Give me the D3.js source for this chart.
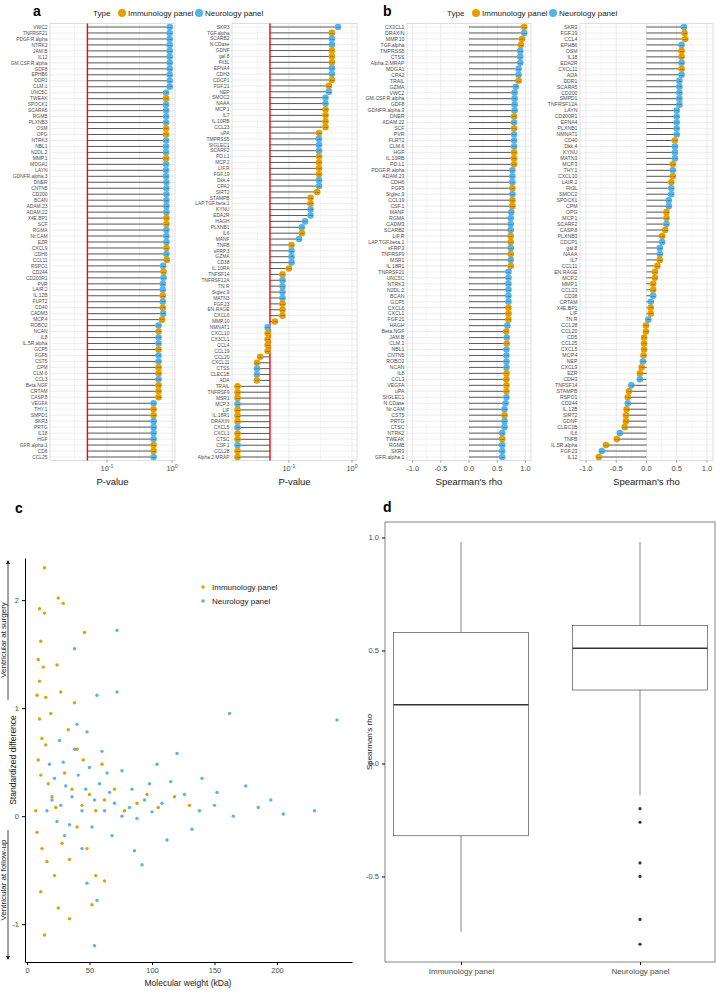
<!DOCTYPE html>
<html>
<head>
<meta charset="utf-8">
<script src="https://cdn.jsdelivr.net/npm/d3@7"></script>
<style>
  body { margin: 0; background: #fff; }
  text { font-family: "Liberation Sans", Arial, sans-serif; }
</style>
</head>
<body>
<svg id="fig" width="717" height="992"></svg>
<script>
// ---- data: panel a (P-values) ----
const aLeftNames = ["VWC2","TNFRSF21","PDGF.R.alpha","NTRK2","JAM.B","IL12","GM.CSF.R.alpha","GDF8","EPHB6","DDR1","CLM.1","UNC5C","TWEAK","SPOCK1","SCARA5","RGMB","PLXNB3","OSM","OPG","NTRK3","NBL1","N2DL.2","MMP.1","MDGA1","LAYN","GDNFR.alpha.3","DNER","CNTN5","CD200","BCAN","ADAM.23","ADAM.22","X4E.BP1","SCF","RGMA","Nr.CAM","EZR","CXCL9","CDH6","CCL11","RSPO1","CD244","CD200R1","PVR","LAIR.2","IL.12B","FLRT2","CD40","CADM3","MCP.4","ROBO2","NCAN","IL8","IL.5R.alpha","GCP5","FGF5","CST5","CPM","CLM.6","CCL3","Beta.NGF","CRTAM","CASP.8","VEGFA","THY.1","SMPD1","SKR3","PRTG","IL18","HGF","GFR.alpha.1","CD6","CCL25"];
const aLeftP = [0.92,0.92,0.92,0.92,0.92,0.92,0.92,0.92,0.92,0.92,0.92,
  0.81,0.81,0.81,0.81,0.81,0.81,0.81,0.81,0.81,0.81,0.81,0.81,0.81,0.81,0.81,0.82,0.82,0.82,0.82,0.82,0.82,0.82,0.82,0.82,0.82,0.82,0.82,0.82,0.83,
  0.73,0.74,0.74,0.72,0.72,0.72,0.72,0.72,0.73,0.70,
  0.62,0.62,0.62,0.62,0.62,0.62,0.62,0.62,0.62,0.62,0.62,0.62,0.62,
  0.52,0.52,0.52,0.52,0.52,0.52,0.52,0.52,0.52,0.52];
const aLeftType = "NNNNNNNNNNNNINNNNIINNNINNNNNNNNNIINNNINININNNININININNINNIINIIINIINNNNIINII".split("");

const aRightNames = ["SKR3","TGF.alpha","SCARB2","N.CDase","GDNF","gal.8","Flt3L","EFNA4","CDH3","CDCP1","FGF.21","NEP","SMOC2","NAAA","MCP.1","IL7","IL.10RB","CCL23","uPA","TMPRSS5","SIGLEC1","SCARF2","PD.L1","MCP.2","LIF.R","FGF.19","Dkk.4","CPA2","SIRT2","STAMPB","LAP.TGF.beta.1","KYNU","EDA2R","HAGH","PLXNB1","IL6","MANF","TNFB","sFRP.3","GZMA","CD38","IL.10RA","TNFSF14","TNFRSF12A","TN.R","Siglec.9","MATN3","FGF.23","EN.RAGE","CXCL6","MMP.10","NMNAT1","CXCL10","CX3CL1","CCL4","CCL19","CCL20","CXCL11","CTSS","CLEC1B","ADA","TRAIL","TNFRSF9","MSR1","MCP.3","LIF","IL.18R1","DRAXIN","CXCL5","CXCL1","CTSC","CSF.1","CCL28","Alpha.2.MRAP"];
const aRightP = [0.60,0.48,0.48,0.48,0.48,0.48,0.48,0.48,0.48,0.48,0.43,0.43,
  0.38,0.38,0.38,0.38,0.38,0.38,0.30,0.30,0.30,0.30,0.30,0.30,0.30,0.30,0.30,0.30,
  0.28,0.22,0.22,0.22,0.22,0.18,0.16,0.16,0.145,0.11,0.11,0.11,0.11,0.10,
  0.079,0.079,0.079,0.079,0.079,0.079,0.079,0.079,0.060,
  0.046,0.046,0.046,0.046,0.046,0.035,0.031,0.031,0.031,0.031,
  0.0153,0.0153,0.0153,0.0153,0.0153,0.0153,0.0153,0.0153,0.0153,0.0153,0.0153,0.0153,0.0153];
const aRightType = "NINNIIINNIINNNIIIIINNNIIIINNIIINNNNININNNIINNNNIIIINIIIIIINNIIIINIIINIINIIN".split("");

// ---- data: panel b (Spearman's rho) ----
const bLeftNames = ["CX3CL1","DRAXIN","MMP.10","TGF.alpha","TMPRSS5","CTSS","Alpha.2.MRAP","MDGA1","CPA2","TRAIL","GZMA","VWC2","GM.CSF.R.alpha","GDF8","GDNFR.alpha.3","DNER","ADAM.22","SCF","PVR","FLRT2","CLM.6","HGF","IL.10RB","PD.L1","PDGF.R.alpha","ADAM.23","CDH6","FGF5","Siglec.9","CCL19","CSF.1","MANF","RGMA","CADM3","SCARB2","LIF.R","LAP.TGF.beta.1","sFRP.3","TNFRSF9","MSR1","IL.18R1","TNFRSF21","UNC5C","NTRK3","N2DL.2","BCAN","GCP5","CXCL6","CXCL1","FGF.21","HAGH","Beta.NGF","JAM.B","CLM.1","NBL1","CNTN5","ROBO2","NCAN","IL8","CCL3","VEGFA","uPA","SIGLEC1","N.CDase","Nr.CAM","CST5","PRTG","CTSC","NTRK2","TWEAK","RGMB","SKR3","GFR.alpha.1"];
const bLeftRho = [0.98,0.98,0.94,0.92,0.91,0.91,0.91,0.88,0.88,0.88,0.83,
  0.81,0.81,0.81,0.81,0.80,0.80,0.80,0.80,0.80,0.80,0.80,0.80,0.80,
  0.77,0.77,0.77,0.77,0.77,0.77,0.77,0.75,
  0.74,0.74,0.74,0.74,0.74,0.74,0.74,0.74,0.74,
  0.70,0.70,0.70,0.70,0.70,0.70,0.70,0.70,0.70,0.68,0.66,0.67,0.67,
  0.665,0.665,0.665,0.665,0.665,0.665,0.665,0.665,0.665,0.65,
  0.63,0.63,0.63,0.63,0.59,0.59,0.59,0.59,0.59];
const bLeftType = "INIINNNNNINNNNNININNNIIINNNINIINNNNIINININNNNNNIIINININNNNIIIINNNINNNINNN".split("");

const bRightNames = ["SKR3","FGF.19","CCL4","EPHB6","OSM","IL18","EDA2R","CXCL11","ADA","DDR1","SCARA5","CD200","SMPD1","TNFRSF12A","LAYN","CD200R1","EFNA4","PLXNB1","NMNAT1","CD40","Dkk.4","KYNU","MATN3","MCP.3","THY.1","CXCL10","LAIR.2","Flt3L","SMOC2","SPOCK1","CPM","OPG","MCP.1","SCARF2","CASP.8","PLXNB3","CDCP1","gal.8","NAAA","IL7","CCL11","EN.RAGE","MCP.2","MMP.1","CCL23","CD38","CRTAM","X4E.BP1","LIF","TN.R","CCL28","CCL20","CD5","CCL25","CXCL5","MCP.4","NEP","CXCL9","EZR","CDH3","TNFSF14","STAMPB","RSPO1","CD244","IL.12B","SIRT2","GDNF","CLEC1B","IL6","TNFB","IL.5R.alpha","FGF.23","IL12"];
const bRightRho = [0.62,0.63,0.64,0.58,0.58,0.58,0.58,0.58,0.58,
  0.545,0.545,0.545,0.545,0.545,0.50,0.50,0.50,0.50,0.50,
  0.47,0.47,0.47,0.47,0.435,0.435,0.435,0.41,0.41,0.41,0.37,0.37,
  0.33,0.33,0.33,0.31,0.26,0.26,0.22,0.22,0.22,0.18,0.14,0.14,
  0.11,0.11,0.11,0.07,0.07,0.07,0.03,-0.01,-0.01,-0.04,-0.04,-0.04,-0.05,-0.06,-0.08,
  -0.11,-0.11,-0.25,-0.29,-0.31,-0.31,-0.33,-0.34,-0.34,-0.36,-0.44,-0.49,-0.67,-0.74,-0.79];
const bRightType = "NIINIININNNNNNNNNNNINNNINIINNNNIINIINNNIIIIIINNIINIIIIIINIINNIINIIIINIINIIN".split("");

// ---- data: panel c (molecular weight in kDa, standardized difference) ----
const cImmuno = [[14,2.30],[10,1.92],[14,1.88],[25,2.02],[29,1.97],[46,1.70],[11,1.62],[9,1.45],[13,1.38],[10,1.25],
  [24,1.40],[8,1.12],[15,1.10],[27,1.15],[10,0.90],[12,0.72],[15,0.66],[33,0.80],[40,0.62],[45,0.52],
  [9,0.52],[11,0.38],[17,0.30],[20,0.18],[23,0.08],[30,0.40],[36,0.25],[44,0.10],[50,0.20],[55,0.05],
  [62,0.15],[70,0.25],[78,0.05],[88,0.12],[96,0.20],[105,0.08],[118,0.18],[130,0.10],[8,-0.15],[12,-0.30],
  [16,-0.42],[22,-0.55],[28,-0.25],[34,-0.40],[40,-0.10],[48,-0.30],[55,-0.55],[11,-0.70],[14,-1.10],[34,-0.95],
  [52,-0.82],[62,-0.60],[25,-0.85],[19,0.95],[7,0.05],[38,1.05],[60,0.48]];
const cNeuro = [[54,-1.20],[56,-0.78],[48,-0.62],[72,1.72],[38,1.55],[162,0.95],[248,0.89],[72,1.15],[56,1.12],[230,0.05],
  [205,0.02],[185,0.08],[165,0.00],[150,0.10],[138,0.05],[126,0.20],[115,0.32],[108,0.12],[100,0.04],[94,0.15],
  [88,-0.02],[82,0.08],[76,0.00],[70,0.12],[66,0.22],[62,0.05],[58,0.30],[54,0.15],[50,0.45],[47,0.25],
  [44,0.05],[41,0.38],[38,0.62],[36,0.18],[34,-0.08],[31,0.28],[29,0.50],[27,0.10],[24,-0.05],[22,0.35],
  [20,0.15],[18,0.48],[16,0.05],[86,-0.32],[112,-0.22],[132,-0.12],[152,0.22],[68,-0.18],[44,-0.30],[30,-0.18],
  [48,0.78],[60,0.60],[76,0.42],[104,0.48],[120,0.58],[140,0.35],[175,0.28],[195,0.15],[98,0.30],[84,0.25],
  [64,0.40],[52,-0.10],[40,0.85],[26,0.70],[92,-0.45]];

// ---- data: panel d (box summaries of Spearman's rho) ----
const dGroups = ["Immunology panel", "Neurology panel"];
const dLow = [-0.745, -0.14];
const dQ1 = [-0.32, 0.325];
const dMed = [0.26, 0.51];
const dQ3 = [0.58, 0.61];
const dHigh = [0.98, 0.98];
const dOutliers = [[], [-0.20, -0.26, -0.44, -0.50, -0.69, -0.80]];

const ORANGE = "#E69F00", BLUE = "#56B4E9";
const typeColor = t => t === "I" ? ORANGE : BLUE;
const num1 = d => d.toFixed(1);   // ggplot-style labels with a plain hyphen
const svg = d3.select("#fig");

// lollipop panel used four times in a and b
function lollipop(cfg) {
  const g = svg.append("g");
  const idx = d3.range(cfg.names.length);
  const y = d3.scalePoint().domain(idx).range(cfg.rows);
  const pad = 0.6 * y.step();
  const top = cfg.rows[0] - pad, bottom = cfg.rows[1] + pad;
  const x = cfg.x;
  const [x0, x1] = x.range();

  g.selectAll(null).data(cfg.minor).enter().append("line")
    .attr("x1", d => x(d)).attr("x2", d => x(d))
    .attr("y1", top).attr("y2", bottom)
    .attr("stroke", "#ececec").attr("stroke-width", 0.5);
  g.selectAll(null).data(cfg.ticks).enter().append("line")
    .attr("x1", d => x(d)).attr("x2", d => x(d))
    .attr("y1", top).attr("y2", bottom)
    .attr("stroke", "#e0e0e0").attr("stroke-width", 0.7);
  g.selectAll(null).data(idx).enter().append("line")
    .attr("x1", x0).attr("x2", x1)
    .attr("y1", d => y(d)).attr("y2", d => y(d))
    .attr("stroke", "#e4e4e4").attr("stroke-width", 0.6);
  g.append("rect")
    .attr("x", x0).attr("y", top)
    .attr("width", x1 - x0).attr("height", bottom - top)
    .attr("fill", "none").attr("stroke", "#c8c8c8").attr("stroke-width", 0.6);

  if (cfg.ref) {
    g.append("line")
      .attr("x1", x(cfg.base)).attr("x2", x(cfg.base))
      .attr("y1", top).attr("y2", bottom)
      .attr("stroke", "#ff0000").attr("stroke-width", 1.4);
  }

  // stems
  g.selectAll(null).data(idx).enter().append("line")
    .attr("x1", x(cfg.base)).attr("x2", d => x(cfg.vals[d]))
    .attr("y1", d => y(d)).attr("y2", d => y(d))
    .attr("stroke", "#4a4a4a").attr("stroke-width", 0.9);

  // heads
  g.selectAll(null).data(idx).enter().append("circle")
    .attr("cx", d => x(cfg.vals[d])).attr("cy", d => y(d))
    .attr("r", 3.3)
    .attr("fill", d => typeColor(cfg.types[d]));
  g.selectAll(null).data(idx).enter().append("text")
    .attr("x", d => x(cfg.vals[d])).attr("y", d => y(d))
    .attr("dy", "0.35em").attr("text-anchor", "middle")
    .style("font-size", "2.2px").style("fill", "#333")
    .text(d => cfg.fmt(cfg.vals[d]));

  // row labels
  g.selectAll(null).data(idx).enter().append("text")
    .attr("x", x0 - 2.5).attr("y", d => y(d))
    .attr("dy", "0.35em").attr("text-anchor", "end")
    .style("font-size", cfg.labelSize + "px").style("fill", "#4d4d4d")
    .text(d => cfg.names[d]);

  // x axis ticks
  g.selectAll(null).data(cfg.ticks).enter().append("line")
    .attr("x1", d => x(d)).attr("x2", d => x(d))
    .attr("y1", bottom).attr("y2", bottom + 2)
    .attr("stroke", "#333").attr("stroke-width", 0.5);
  const tl = g.selectAll(null).data(cfg.ticks).enter().append("text")
    .attr("x", d => x(d)).attr("y", bottom + 10)
    .attr("text-anchor", "middle")
    .style("font-size", "7.5px").style("fill", "#4d4d4d");
  cfg.tickText(tl);

  g.append("text")
    .attr("x", (x0 + x1) / 2).attr("y", bottom + 24)
    .attr("text-anchor", "middle")
    .style("font-size", "9.5px").style("fill", "#1a1a1a")
    .text(cfg.title);
}

const logTicks = sel => {
  sel.text("10");
  sel.append("tspan").attr("dy", "-3").style("font-size", "5.2px")
    .text(d => String(Math.round(Math.log10(d)) || 0));
};
const rhoTicks = sel => sel.text(num1);

lollipop({
  names: aLeftNames, vals: aLeftP, types: aLeftType,
  x: d3.scaleLog().domain([0.0133, 1.11]).range([50, 175]),
  rows: [27, 457], base: 0.05, ref: true,
  ticks: [0.1, 1], minor: [Math.pow(10, -1.5), Math.pow(10, -0.5)],
  tickText: logTicks, fmt: d3.format(".2f"), labelSize: 4.9, title: "P-value"
});
lollipop({
  names: aRightNames, vals: aRightP, types: aRightType,
  x: d3.scaleLog().domain([0.0125, 1.2]).range([232, 357]),
  rows: [27, 457], base: 0.05, ref: true,
  ticks: [0.1, 1], minor: [Math.pow(10, -1.5), Math.pow(10, -0.5)],
  tickText: logTicks, fmt: d3.format(".2f"), labelSize: 4.9, title: "P-value"
});
lollipop({
  names: bLeftNames, vals: bLeftRho, types: bLeftType,
  x: d3.scaleLinear().domain([-1.1, 1.1]).range([407, 531]),
  rows: [27, 457], base: 0, ref: false,
  ticks: [-1, -0.5, 0, 0.5, 1], minor: [-0.75, -0.25, 0.25, 0.75],
  tickText: rhoTicks, fmt: d3.format(".2f"), labelSize: 5.2, title: "Spearman's rho"
});
lollipop({
  names: bRightNames, vals: bRightRho, types: bRightType,
  x: d3.scaleLinear().domain([-1.1, 1.1]).range([580, 713]),
  rows: [27, 457], base: 0, ref: false,
  ticks: [-1, -0.5, 0, 0.5, 1], minor: [-0.75, -0.25, 0.25, 0.75],
  tickText: rhoTicks, fmt: d3.format(".2f"), labelSize: 5.2, title: "Spearman's rho"
});

// legends on top of a and b
function typeLegend(x, y) {
  const g = svg.append("g").attr("transform", `translate(${x},${y})`);
  g.append("text").attr("x", 0).attr("y", 3).style("font-size", "8px").style("fill", "#1a1a1a").text("Type");
  g.append("circle").attr("cx", 29).attr("cy", 0).attr("r", 4).attr("fill", ORANGE);
  g.append("text").attr("x", 35).attr("y", 3).style("font-size", "8px").style("fill", "#1a1a1a").text("Immunology panel");
  g.append("circle").attr("cx", 106).attr("cy", 0).attr("r", 4).attr("fill", BLUE);
  g.append("text").attr("x", 112).attr("y", 3).style("font-size", "8px").style("fill", "#1a1a1a").text("Neurology panel");
}
typeLegend(93, 13);
typeLegend(447, 13);

// panel letters
[["a", 33, 16], ["b", 383, 16], ["c", 15, 513], ["d", 383, 512]].forEach(([t, x, y]) => {
  svg.append("text").attr("x", x).attr("y", y)
    .style("font-size", "14px").style("font-weight", "bold").text(t);
});

// ---- panel c ----
const cX = d3.scaleLinear().domain([-1.6, 260]).range([25, 352]);
const cY = d3.scaleLinear().domain([-1.35, 2.39]).range([962, 558]);
const cG = svg.append("g");
cG.append("g").attr("transform", "translate(0,962)")
  .call(d3.axisBottom(cX).tickValues([0, 50, 100, 150, 200]).tickSize(3).tickSizeOuter(0))
  .call(a => a.selectAll("text").style("font-size", "7.5px").style("fill", "#4d4d4d"));
cG.append("g").attr("transform", "translate(25,0)")
  .call(d3.axisLeft(cY).tickValues([-1, 0, 1, 2]).tickFormat(d => String(d)).tickSize(3).tickSizeOuter(0))
  .call(a => a.selectAll("text").style("font-size", "7.5px").style("fill", "#4d4d4d"));
cG.selectAll(null).data(cImmuno).enter().append("circle")
  .attr("cx", d => cX(d[0])).attr("cy", d => cY(d[1])).attr("r", 1.7).attr("fill", ORANGE);
cG.selectAll(null).data(cNeuro).enter().append("circle")
  .attr("cx", d => cX(d[0])).attr("cy", d => cY(d[1])).attr("r", 1.7).attr("fill", BLUE);
cG.append("text").attr("x", 188).attr("y", 986).attr("text-anchor", "middle")
  .style("font-size", "8.5px").style("fill", "#1a1a1a").text("Molecular weight (kDa)");
cG.append("text").attr("transform", "translate(16,760) rotate(-90)").attr("text-anchor", "middle")
  .style("font-size", "8.5px").style("fill", "#1a1a1a").text("Standardized difference");
// direction arrows
cG.append("defs").append("marker").attr("id", "arrow").attr("viewBox", "0 0 10 10")
  .attr("refX", 5).attr("refY", 5).attr("markerWidth", 5).attr("markerHeight", 5)
  .attr("orient", "auto-start-reverse")
  .append("path").attr("d", "M0,0L10,5L0,10z").attr("fill", "#1a1a1a");
cG.append("line").attr("x1", 8).attr("x2", 8).attr("y1", 700).attr("y2", 562)
  .attr("stroke", "#1a1a1a").attr("stroke-width", 0.8).attr("marker-end", "url(#arrow)");
cG.append("line").attr("x1", 8).attr("x2", 8).attr("y1", 830).attr("y2", 958)
  .attr("stroke", "#1a1a1a").attr("stroke-width", 0.8).attr("marker-end", "url(#arrow)");
cG.append("text").attr("transform", "translate(6,640) rotate(-90)").attr("text-anchor", "middle")
  .style("font-size", "8px").style("fill", "#1a1a1a").text("Ventricular at surgery");
cG.append("text").attr("transform", "translate(6,880) rotate(-90)").attr("text-anchor", "middle")
  .style("font-size", "8px").style("fill", "#1a1a1a").text("Ventricular at follow-up");
// legend
[[ORANGE, "Immunology panel", 587], [BLUE, "Neurology panel", 601]].forEach(([c, t, y]) => {
  cG.append("circle").attr("cx", 203).attr("cy", y).attr("r", 1.8).attr("fill", c);
  cG.append("text").attr("x", 212).attr("y", y + 3).style("font-size", "8px").style("fill", "#1a1a1a").text(t);
});

// ---- panel d ----
const dX = d3.scalePoint().domain(dGroups).range([461, 640]);
const dY = d3.scaleLinear().domain([-0.8785, 1.0685]).range([962, 522]);
const dG = svg.append("g");
dG.append("rect").attr("x", 385).attr("y", 522).attr("width", 330).attr("height", 440)
  .attr("fill", "none").attr("stroke", "#333").attr("stroke-width", 0.6);
dG.append("g").attr("transform", "translate(385,0)")
  .call(d3.axisLeft(dY).tickValues([-0.5, 0, 0.5, 1]).tickFormat(num1).tickSize(3))
  .call(a => a.select(".domain").remove())
  .call(a => a.selectAll("text").style("font-size", "7.5px").style("fill", "#4d4d4d"));
dG.append("g").attr("transform", "translate(0,962)")
  .call(d3.axisBottom(dX).tickSize(3))
  .call(a => a.select(".domain").remove())
  .call(a => a.selectAll("text").style("font-size", "8px").style("fill", "#4d4d4d"));
const bw = 135;
dGroups.forEach((grp, i) => {
  const cx = dX(grp);
  dG.append("line").attr("x1", cx).attr("x2", cx).attr("y1", dY(dHigh[i])).attr("y2", dY(dQ3[i]))
    .attr("stroke", "#333").attr("stroke-width", 0.6);
  dG.append("line").attr("x1", cx).attr("x2", cx).attr("y1", dY(dQ1[i])).attr("y2", dY(dLow[i]))
    .attr("stroke", "#333").attr("stroke-width", 0.6);
  dG.append("rect").attr("x", cx - bw / 2).attr("y", dY(dQ3[i]))
    .attr("width", bw).attr("height", dY(dQ1[i]) - dY(dQ3[i]))
    .attr("fill", "#fff").attr("stroke", "#333").attr("stroke-width", 0.6);
  dG.append("line").attr("x1", cx - bw / 2).attr("x2", cx + bw / 2)
    .attr("y1", dY(dMed[i])).attr("y2", dY(dMed[i]))
    .attr("stroke", "#333").attr("stroke-width", 1.4);
  dG.selectAll(null).data(dOutliers[i]).enter().append("circle")
    .attr("cx", cx).attr("cy", d => dY(d)).attr("r", 1.6).attr("fill", "#333");
});
dG.append("text").attr("transform", "translate(372,742) rotate(-90)").attr("text-anchor", "middle")
  .style("font-size", "8px").style("fill", "#1a1a1a").text("Spearman's rho");
</script>
</body>
</html>
